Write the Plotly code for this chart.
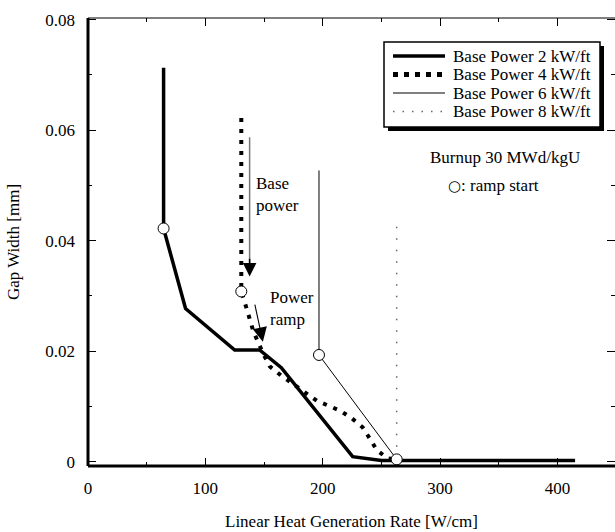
import plotly.graph_objects as go

# ---------------- data ----------------
series_names = ["Base Power 2 kW/ft", "Base Power 4 kW/ft",
                "Base Power 6 kW/ft", "Base Power 8 kW/ft"]

bp2_x = [64.4, 64.4, 83.1, 103, 125, 146.2, 164.7, 225.5, 250, 415]
bp2_y = [0.0713, 0.0422, 0.0277, 0.0241, 0.0202, 0.0202, 0.0170, 0.0009, 0.0002, 0.0002]

bp4_x = [130.6, 130.6, 135, 141, 150, 155, 165, 185, 195, 205, 215, 225, 234, 240, 246, 255, 263]
bp4_y = [0.0622, 0.0308, 0.0278, 0.0235, 0.0192, 0.0172, 0.0155, 0.0124, 0.0110, 0.0101,
         0.0092, 0.0078, 0.0062, 0.0042, 0.0021, 0.0006, 0.0004]

bp6_x = [196.8, 196.8, 263]
bp6_y = [0.0527, 0.0193, 0.0004]

bp8_x = [263, 263]
bp8_y = [0.0425, 0.0004]

ramp_x = [64.4, 130.6, 196.8, 263]
ramp_y = [0.0422, 0.0308, 0.0193, 0.0004]

x_ticks = [0, 100, 200, 300, 400]
y_ticks = [0, 0.02, 0.04, 0.06, 0.08]
y_ticklabels = ["0", "0.02", "0.04", "0.06", "0.08"]

# ---------------- style ----------------
FONT = "Liberation Serif, Times New Roman, serif"
styles = [
    dict(color="black", width=3.5, dash="solid"),
    dict(color="black", width=4, dash="4px,7px"),
    dict(color="black", width=1, dash="solid"),
    dict(color="#666666", width=1.5, dash="1.5px,10px"),
]
legend_styles = [
    dict(color="black", width=3.5, dash="solid"),
    dict(color="black", width=5, dash="5px,6px"),
    dict(color="black", width=1, dash="solid"),
    dict(color="#666666", width=1.5, dash="1.5px,8px"),
]

W, H = 615, 532
ML, MR, MT, MB = 88, 0, 18, 66
PW, PH = W - ML - MR, H - MT - MB
X_RANGE = [0, 449]


def px(xp):
    return (xp - ML) / PW


def py(yp):
    return (H - MB - yp) / PH


fig = go.Figure()
for xs, ys, nm, st in zip([bp2_x, bp4_x, bp6_x, bp8_x], [bp2_y, bp4_y, bp6_y, bp8_y],
                          series_names, styles):
    fig.add_trace(go.Scatter(x=xs, y=ys, mode="lines", name=nm, line=st, showlegend=False))

fig.add_trace(go.Scatter(x=ramp_x, y=ramp_y, mode="markers", name="ramp start",
                         marker=dict(symbol="circle", size=11, color="white",
                                     line=dict(color="black", width=1)),
                         showlegend=False))

# invisible trace to carry the top tick axis
fig.add_trace(go.Scatter(x=[X_RANGE[0]], y=[0], xaxis="x2", mode="markers",
                         marker=dict(opacity=0), showlegend=False, hoverinfo="skip"))

shapes = []
# axis frame
shapes.append(dict(type="line", xref="paper", yref="paper", x0=0, x1=0, y0=0, y1=1,
                   line=dict(color="black", width=3)))
shapes.append(dict(type="line", xref="paper", yref="paper", x0=0, x1=1, y0=0, y1=0,
                   line=dict(color="black", width=3)))
shapes.append(dict(type="line", xref="paper", yref="paper", x0=0, x1=1, y0=1, y1=1,
                   line=dict(color="black", width=1)))
# legend box with shadow
shapes.append(dict(type="rect", xref="paper", yref="paper", x0=px(388), x1=px(604),
                   y0=py(131), y1=py(46), fillcolor="black", line=dict(width=0)))
shapes.append(dict(type="rect", xref="paper", yref="paper", x0=px(384), x1=px(600),
                   y0=py(127), y1=py(42), fillcolor="white",
                   line=dict(color="black", width=1.5)))
row_y = [56, 74.5, 93, 111.5]
annotations = []
for ry, nm, st in zip(row_y, series_names, legend_styles):
    shapes.append(dict(type="line", xref="paper", yref="paper", x0=px(393), x1=px(445),
                       y0=py(ry), y1=py(ry), line=st))
    annotations.append(dict(xref="paper", yref="paper", x=px(451), y=py(ry), text=nm,
                            showarrow=False, xanchor="left", yanchor="middle",
                            font=dict(family=FONT, size=17, color="black")))

# text annotations
annotations += [
    dict(x=355, y=0.0551, xref="x", yref="y", text="Burnup 30 MWd/kgU", showarrow=False,
         xanchor="center", yanchor="middle", font=dict(family=FONT, size=17, color="black")),
    dict(x=345.5, y=0.0500, xref="x", yref="y",
         text="<span style='font-family:DejaVu Sans;font-size:15px'>○</span>: ramp start",
         showarrow=False,
         xanchor="center", yanchor="middle", font=dict(family=FONT, size=17, color="black")),
    dict(x=141.1, y=0.0483, xref="x", yref="y", text="Base<br>power", showarrow=False,
         xanchor="left", yanchor="middle", align="left",
         font=dict(family=FONT, size=17, color="black")),
    dict(x=153, y=0.0277, xref="x", yref="y", text="Power<br>ramp", showarrow=False,
         xanchor="left", yanchor="middle", align="left",
         font=dict(family=FONT, size=17, color="black")),
    # base power arrow: gray shaft + black head
    dict(x=137.7, y=0.0345, ax=137.7, ay=0.059, xref="x", yref="y", axref="x", ayref="y",
         text="", showarrow=True, arrowhead=0, arrowwidth=1.5, arrowcolor="#777777"),
    dict(x=137.7, y=0.0335, ax=137.7, ay=0.037, xref="x", yref="y", axref="x", ayref="y",
         text="", showarrow=True, arrowhead=2, arrowsize=1.8, arrowwidth=1.5,
         arrowcolor="black"),
    # power ramp arrow
    dict(x=149, y=0.0217, ax=141.9, ay=0.0287, xref="x", yref="y", axref="x", ayref="y",
         text="", showarrow=True, arrowhead=2, arrowsize=2.6, arrowwidth=1.1,
         arrowcolor="black"),
]

tick_common = dict(ticks="inside", ticklen=8, tickwidth=1, tickcolor="black",
                   showline=False, showgrid=False, zeroline=False)
minor_x = dict(dtick=50, tick0=0, ticks="inside", ticklen=4, tickwidth=1, tickcolor="black")

fig.update_layout(
    width=W, height=H,
    margin=dict(l=ML, r=MR, t=MT, b=MB, pad=0),
    paper_bgcolor="white", plot_bgcolor="white",
    font=dict(family=FONT, size=17, color="black"),
    shapes=shapes, annotations=annotations,
    showlegend=False,
    xaxis=dict(
        range=X_RANGE, tickvals=x_ticks, minor=minor_x,
        ticklabelstandoff=10,
        title=dict(text="Linear Heat Generation Rate [W/cm]", standoff=18,
                   font=dict(family=FONT, size=17, color="black")),
        tickfont=dict(family=FONT, size=17, color="black"),
        **tick_common,
    ),
    xaxis2=dict(
        range=X_RANGE, overlaying="x", side="top", anchor="y", tickvals=x_ticks,
        showticklabels=False, minor=minor_x,
        **tick_common,
    ),
    yaxis=dict(
        range=[-0.0008, 0.0803], tickvals=y_ticks, ticktext=y_ticklabels, mirror="ticks",
        minor=dict(dtick=0.01, tick0=0, ticks="inside", ticklen=4, tickwidth=1,
                   tickcolor="black"),
        ticklabelstandoff=12,
        title=dict(text="Gap Width [mm]", standoff=21,
                   font=dict(family=FONT, size=17, color="black")),
        tickfont=dict(family=FONT, size=17, color="black"),
        **tick_common,
    ),
)

fig.write_html("out.html")
